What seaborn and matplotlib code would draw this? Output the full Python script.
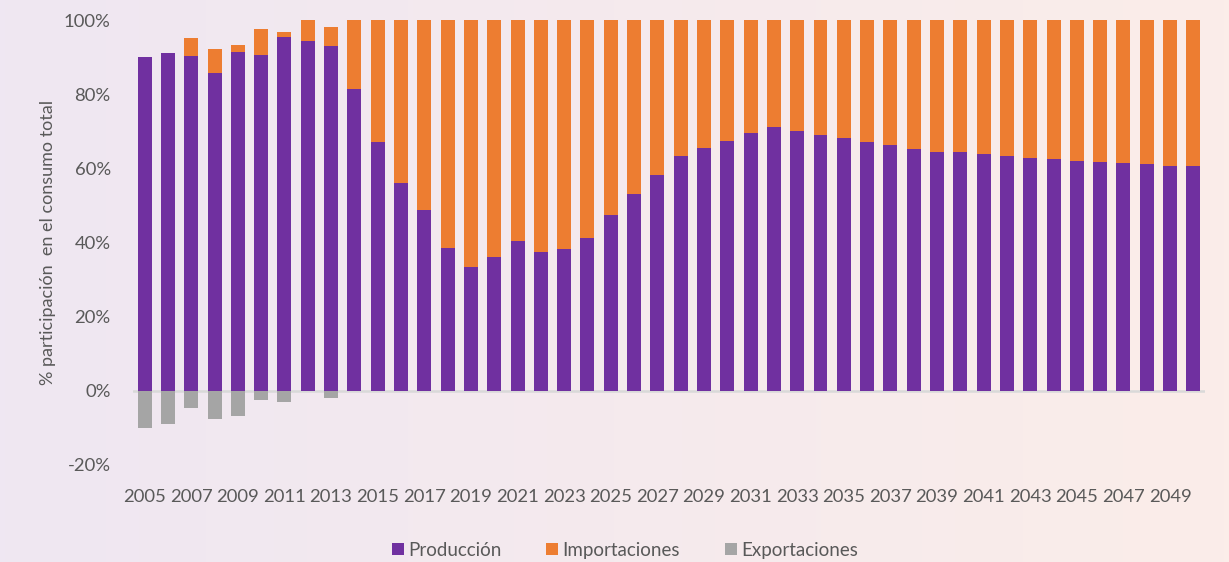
import numpy as np
import pandas as pd
import matplotlib
matplotlib.use("Agg")
import matplotlib.pyplot as plt
from matplotlib.lines import Line2D
import seaborn as sns

years = list(range(2005, 2051))
produccion = [90.0, 91.0, 90.4, 85.6, 91.5, 90.6, 95.4, 94.3, 93.1, 81.5,
              67.1, 56.0, 48.7, 38.6, 33.5, 36.2, 40.4, 37.5, 38.3, 41.2,
              47.3, 53.2, 58.2, 63.4, 65.4, 67.5, 69.4, 71.2, 70.1, 69.0,
              68.3, 67.2, 66.2, 65.3, 64.3, 64.3, 63.9, 63.4, 62.9, 62.4,
              62.1, 61.8, 61.5, 61.1, 60.7, 60.5]
importaciones = [0.0, 0.0, 4.7, 6.6, 1.7, 7.0, 1.4, 5.7, 4.9, 18.5,
                 32.9, 44.0, 51.3, 61.4, 66.5, 63.8, 59.6, 62.5, 61.7, 58.8,
                 52.7, 46.8, 41.8, 36.6, 34.6, 32.5, 30.6, 28.8, 29.9, 31.0,
                 31.7, 32.8, 33.8, 34.7, 35.7, 35.7, 36.1, 36.6, 37.1, 37.6,
                 37.9, 38.2, 38.5, 38.9, 39.3, 39.5]
exportaciones = [-9.9, -8.9, -4.7, -7.7, -6.8, -2.4, -3.0, 0.0, -1.9] + [0.0] * 37

labels = ["Producción", "Importaciones", "Exportaciones"]
colors = ["#7030a0", "#ed7d31", "#a5a5a5"]
yticks = [-20, 0, 20, 40, 60, 80, 100]

df = pd.DataFrame({"year": [str(y) for y in years],
                   "prod": produccion, "imp": importaciones, "exp": exportaciones})

sns.set_theme(style="white")
plt.rcParams["font.family"] = ["Lato", "DejaVu Sans"]
text_color = "#595959"

fig = plt.figure(figsize=(12.29, 5.62), dpi=100)

# gradient background
bg = fig.add_axes([0, 0, 1, 1], zorder=-10)
left = np.array([239, 231, 242]) / 255
right = np.array([251, 237, 233]) / 255
t = np.linspace(0, 1, 256)[None, :, None]
grad = left[None, None, :] * (1 - t) + right[None, None, :] * t
bg.imshow(grad, aspect="auto", extent=[0, 1, 0, 1])
bg.axis("off")

ax = fig.add_axes([0.1082, 0.1726, 0.8723, 0.7918])
ax.set_facecolor("none")

order = df["year"].tolist()
sns.barplot(data=df, x="year", y="prod", order=order, color=colors[0],
            width=0.6, linewidth=0, ax=ax, saturation=1, zorder=3)
sns.barplot(data=df, x="year", y="imp", order=order, color=colors[1],
            width=0.6, linewidth=0, ax=ax, saturation=1,
            bottom=df["prod"].values, zorder=3)
sns.barplot(data=df, x="year", y="exp", order=order, color=colors[2],
            width=0.6, linewidth=0, ax=ax, saturation=1, zorder=3)

ax.axhline(0, color="#d9d9d9", lw=1.8, zorder=2)
ax.set_ylim(-20, 100)
ax.set_xlim(-0.5, len(years) - 0.5)
ax.set_yticks(yticks)
ax.set_yticklabels([f"{v}%" for v in yticks])
ax.set_xticks(range(0, len(years), 2))
ax.set_xticklabels([str(y) for y in years[::2]])
ax.tick_params(axis="both", length=0, labelsize=13.3, colors=text_color)
ax.tick_params(axis="x", pad=17)
ax.tick_params(axis="y", pad=16)
for s in ax.spines.values():
    s.set_visible(False)
ax.set_xlabel("")
ax.set_ylabel("% participación  en el consumo total", fontsize=13,
              color=text_color, labelpad=18)
ax.yaxis.set_label_coords(-0.072, 0.5)

handles = [Line2D([0], [0], marker="s", linestyle="none", markersize=8.5,
                  markerfacecolor=c, markeredgewidth=0) for c in colors]
leg = fig.legend(handles, labels, loc="lower center", ncol=3,
                 bbox_to_anchor=(0.508, -0.024), frameon=False, fontsize=13.5,
                 handletextpad=0.15, columnspacing=2.3, handlelength=0.8)
for txt in leg.get_texts():
    txt.set_color(text_color)

fig.savefig("out.png", dpi=100)
